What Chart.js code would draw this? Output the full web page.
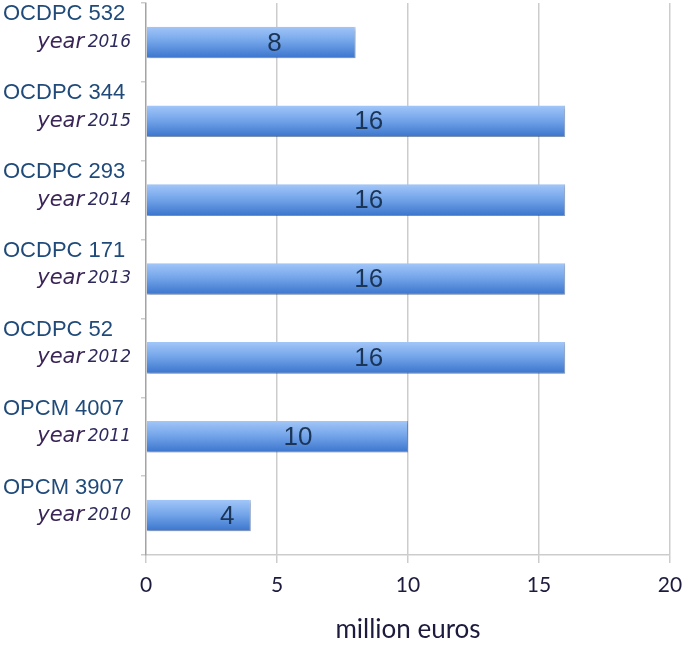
<!DOCTYPE html>
<html>
<head>
<meta charset="utf-8">
<script src="https://cdn.jsdelivr.net/npm/chart.js@4.4.1/dist/chart.umd.min.js"></script>
<style>
  html, body { margin: 0; padding: 0; background: #fff; }
  #wrap { width: 685px; height: 645px; }
</style>
</head>
<body>
<div id="wrap"><canvas id="c" width="685" height="645"></canvas></div>
<script>
// data
const codes = ['OCDPC 532', 'OCDPC 344', 'OCDPC 293', 'OCDPC 171', 'OCDPC 52', 'OPCM 4007', 'OPCM 3907'];
const years = ['2016', '2015', '2014', '2013', '2012', '2011', '2010'];
const values = [8, 16, 16, 16, 16, 10, 4];
const xTicks = [0, 5, 10, 15, 20];
const axisTitle = 'million euros';

const gridColor = 'rgba(0,0,0,0.2)';
const barPct = 0.4;

// vertical gradient per bar, built from the y scale so each bar gets its own
function barFill(c) {
  const chart = c.chart;
  const y = chart.scales.y;
  if (!chart.chartArea || !y) return '#6a9de3';
  const band = chart.chartArea.height / codes.length;
  const h = band * barPct;
  const top = y.getPixelForValue(c.dataIndex) - h / 2;
  const g = chart.ctx.createLinearGradient(0, top, 0, top + h);
  g.addColorStop(0, '#a2c6f8');
  g.addColorStop(0.45, '#75a6ea');
  g.addColorStop(1, '#3a74cc');
  return g;
}

const barStyle = {
  id: 'barStyle',
  beforeDatasetsDraw(chart) {
    const ctx = chart.ctx;
    ctx.save();
    ctx.shadowColor = 'rgba(0,0,0,0.25)';
    ctx.shadowOffsetX = 1;
    ctx.shadowOffsetY = 2;
    ctx.shadowBlur = 3;
  },
  afterDatasetsDraw(chart) {
    const ctx = chart.ctx;
    ctx.restore();
    const x = chart.scales.x;
    ctx.save();
    ctx.font = '26px "Liberation Sans", Arial, sans-serif';
    ctx.fillStyle = '#1b3556';
    ctx.textAlign = 'center';
    ctx.textBaseline = 'middle';
    chart.getDatasetMeta(0).data.forEach((bar, i) => {
      // labels sit a little right of the bar middle, as in the original
      const lx = x.getPixelForValue(values[i] * 0.45 + 1.3);
      ctx.fillText(String(values[i]), lx, bar.y + 1);
    });
    ctx.restore();
  }
};

// two-line category labels: code on top, italic year next to the bar
const catLabels = {
  id: 'catLabels',
  afterDraw(chart) {
    const ctx = chart.ctx;
    const y = chart.scales.y;
    ctx.save();
    ctx.textBaseline = 'middle';
    codes.forEach((code, i) => {
      const yc = y.getPixelForValue(i);
      ctx.textAlign = 'left';
      ctx.font = '22px "Liberation Sans", Arial, sans-serif';
      ctx.fillStyle = '#1f4a79';
      ctx.fillText(code, 3, yc - 28);

      ctx.textAlign = 'right';
      ctx.font = 'italic 17px "DejaVu Sans", sans-serif';
      ctx.fillStyle = '#2c2a5c';
      const right = 131;
      ctx.fillText(years[i], right, yc);
      const w = ctx.measureText(years[i]).width;
      ctx.font = 'italic 21px "DejaVu Sans", sans-serif';
      ctx.fillStyle = '#3a2557';
      ctx.fillText('year ', right - w + 3, yc);
    });
    ctx.restore();
  }
};

new Chart(document.getElementById('c'), {
  type: 'bar',
  data: {
    labels: codes.map((c, i) => c + ' year ' + years[i]),
    datasets: [{
      data: values,
      backgroundColor: barFill,
      borderColor: 'rgba(50,100,180,0.5)',
      borderWidth: { bottom: 1, right: 1, top: 0, left: 0 },
      borderSkipped: false,
      categoryPercentage: 1,
      barPercentage: barPct
    }]
  },
  options: {
    indexAxis: 'y',
    responsive: false,
    animation: false,
    devicePixelRatio: 1,
    layout: { padding: { left: 0, top: 3, right: 15, bottom: 0 } },
    plugins: {
      legend: { display: false },
      tooltip: { enabled: false }
    },
    scales: {
      x: {
        min: 0,
        max: 20,
        afterBuildTicks: s => { s.ticks = xTicks.map(v => ({ value: v })); },
        afterFit: s => { s.height = 90; s.paddingRight = 0; s.paddingLeft = 0; },
        grid: { color: gridColor, lineWidth: 1.5, tickLength: 8, drawTicks: true },
        border: { color: gridColor, width: 1.5 },
        ticks: {
          padding: 10,
          color: '#1c1b3d',
          font: { family: 'Lato, "Open Sans", sans-serif', size: 21 }
        },
        title: {
          display: true,
          text: axisTitle,
          color: '#1c1b3d',
          padding: { top: 0, bottom: 0 },
          font: { family: 'Lato, "Open Sans", sans-serif', size: 26 }
        }
      },
      y: {
        afterFit: s => { s.width = 146; },
        grid: { offset: true, drawOnChartArea: false, tickLength: 5, color: gridColor, lineWidth: 1.5 },
        border: { color: gridColor, width: 1.5 },
        ticks: { display: false }
      }
    }
  },
  plugins: [barStyle, catLabels]
});
</script>
</body>
</html>
